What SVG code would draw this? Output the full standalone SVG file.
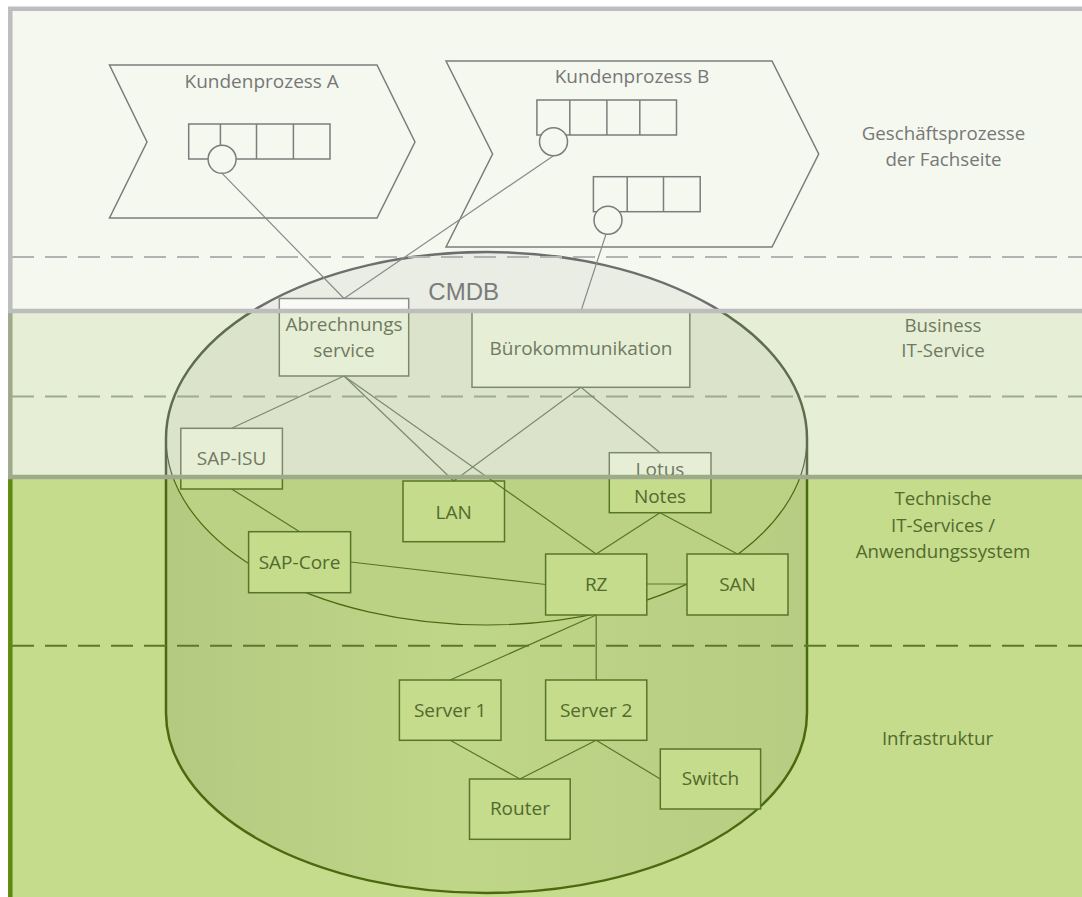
<svg xmlns="http://www.w3.org/2000/svg" width="1082" height="897" viewBox="0 0 1082 897">
<defs>
<linearGradient id="gLine" gradientUnits="userSpaceOnUse" x1="0" y1="0" x2="0" y2="897">
<stop offset="0" stop-color="#8a8a8a"/><stop offset="0.3467" stop-color="#8a8a8a"/>
<stop offset="0.3467" stop-color="#7e896b"/><stop offset="0.5318" stop-color="#7e896b"/>
<stop offset="0.5318" stop-color="#577528"/><stop offset="1" stop-color="#577528"/>
</linearGradient>
<linearGradient id="gCyl" gradientUnits="userSpaceOnUse" x1="0" y1="0" x2="0" y2="897">
<stop offset="0" stop-color="#6e6e6e"/><stop offset="0.3467" stop-color="#6e6e6e"/>
<stop offset="0.3467" stop-color="#5f6d4c"/><stop offset="0.5318" stop-color="#5f6d4c"/>
<stop offset="0.5318" stop-color="#4b6a10"/><stop offset="1" stop-color="#4b6a10"/>
</linearGradient>
<linearGradient id="gFill" gradientUnits="userSpaceOnUse" x1="0" y1="0" x2="0" y2="897">
<stop offset="0" stop-color="#f8faf4"/><stop offset="0.3467" stop-color="#f8faf4"/>
<stop offset="0.3467" stop-color="#e6efd5"/><stop offset="0.5318" stop-color="#e6efd5"/>
<stop offset="0.5318" stop-color="#c4dc8c"/><stop offset="1" stop-color="#c4dc8c"/>
</linearGradient>
<linearGradient id="gBody" x1="0" y1="0" x2="1" y2="0">
<stop offset="0" stop-color="#000" stop-opacity="0.085"/>
<stop offset="0.45" stop-color="#000" stop-opacity="0.025"/>
<stop offset="1" stop-color="#000" stop-opacity="0.07"/>
</linearGradient>
<style>
.box{fill:url(#gFill);stroke:url(#gLine);stroke-width:1.5}
.con{fill:none;stroke:url(#gLine);stroke-width:1.2}
.pr{fill:none;stroke:#7c7c7c;stroke-width:1.5}
.cell{fill:none;stroke:#7c7c7c;stroke-width:1.5}
.circ{fill:#f5f8ef;stroke:#7c7c7c;stroke-width:1.5}
.t{font-family:"Open Sans","Noto Sans",sans-serif;font-size:19px;text-anchor:middle}
.lb{font-size:18.7px}
.t1{fill:#777777}
.t2{fill:#6f7962}
.t3{fill:#526a2c}
.dash{fill:none;stroke-width:2;stroke-dasharray:22 11}
</style>
</defs>

<g id="bands">
<rect x="10" y="8.7" width="1090" height="302.3" fill="#f5f8ef"/>
<rect x="10" y="311" width="1090" height="166" fill="#e6eed5"/>
<rect x="10" y="477" width="1090" height="430" fill="#c4dc8c"/>
</g>

<g id="cmdb-cylinder">
<path d="M166,438.5 A320.5,186.5 0 0 0 807,438.5 L807,713 A320.5,180 0 0 1 166,713 Z" fill="url(#gBody)"/>
<ellipse cx="486.5" cy="438.5" rx="320.5" ry="186.5" fill="#000" fill-opacity="0.045"/>
<path d="M166,438.5 A320.5,186.5 0 0 0 807,438.5" fill="none" stroke="url(#gCyl)" stroke-width="1.2"/>
<path d="M166,438.5 A320.5,186.5 0 0 1 807,438.5 L807,713 A320.5,180 0 0 1 166,713 Z" fill="none" stroke="url(#gCyl)" stroke-width="2.5"/>
<text x="463.7" y="300" font-family="'Liberation Sans',Arial,sans-serif" font-size="24" fill="#7b7b7b" text-anchor="middle">CMDB</text>
</g>

<g id="dashes">
<line x1="12" y1="257" x2="1082" y2="257" stroke="#b3b3b3" class="dash"/>
<line x1="12" y1="396.5" x2="1082" y2="396.5" stroke="#9fab8c" class="dash"/>
<line x1="12" y1="645.7" x2="1082" y2="645.7" stroke="#5b7a2a" class="dash" stroke-width="1.5"/>
</g>

<g id="process-a">
<polygon class="pr" points="109.5,65 377,65 415,142 377,218 109.5,218 147,142"/>
<text class="t t1" x="261.7" y="88.3">Kundenprozess A</text>
<rect class="cell" x="188.7" y="124" width="141.3" height="35"/>
<line class="cell" x1="220.4" y1="124" x2="220.4" y2="159"/>
<line class="cell" x1="256.5" y1="124" x2="256.5" y2="159"/>
<line class="cell" x1="293.4" y1="124" x2="293.4" y2="159"/>
<circle class="circ" cx="222.1" cy="159.3" r="14"/>
</g>

<g id="process-b">
<polygon class="pr" points="446,61 772,61 818.7,154 772,247 446,247 492.6,154"/>
<text class="t t1" x="632" y="83.3">Kundenprozess B</text>
<rect class="cell" x="536.9" y="100" width="139.6" height="35"/>
<line class="cell" x1="569.8" y1="100" x2="569.8" y2="135"/>
<line class="cell" x1="606.9" y1="100" x2="606.9" y2="135"/>
<line class="cell" x1="639.8" y1="100" x2="639.8" y2="135"/>
<circle class="circ" cx="553.5" cy="141.7" r="14"/>
<rect class="cell" x="593.4" y="176.7" width="106.8" height="35"/>
<line class="cell" x1="627.2" y1="176.7" x2="627.2" y2="211.7"/>
<line class="cell" x1="663.5" y1="176.7" x2="663.5" y2="211.7"/>
<circle class="circ" cx="608" cy="220.2" r="14"/>
</g>

<g id="abrechnungsservice">
<rect class="box" x="279.3" y="298.5" width="129.4" height="77.5"/>
<text class="t t2" x="344" y="331">Abrechnungs</text>
<text class="t t2" x="344" y="356.7">service</text>
</g>
<g id="buerokommunikation">
<rect class="box" x="472" y="311" width="217.8" height="76.3"/>
<text class="t t2" x="581" y="354.5">Bürokommunikation</text>
</g>
<g id="sap-isu">
<rect class="box" x="180.8" y="428.3" width="101.6" height="60.7"/>
<text class="t t2" x="231.6" y="464.5">SAP-ISU</text>
</g>
<g id="lotus-notes">
<rect class="box" x="609.3" y="452.7" width="101.7" height="60"/>
<text class="t t2" x="660" y="475.5">Lotus</text>
<text class="t t3" x="660" y="502.7">Notes</text>
</g>
<g id="lan">
<rect class="box" x="403" y="481" width="101.5" height="60.7"/>
<text class="t t3" x="453.7" y="518.5">LAN</text>
</g>
<g id="sap-core">
<rect class="box" x="248.6" y="531.7" width="102" height="61"/>
<text class="t t3" x="299.6" y="569">SAP-Core</text>
</g>
<g id="rz">
<rect class="box" x="545.6" y="554" width="101.2" height="61"/>
<text class="t t3" x="596.2" y="591">RZ</text>
</g>
<g id="san">
<rect class="box" x="687" y="554" width="101" height="61"/>
<text class="t t3" x="737.5" y="591">SAN</text>
</g>
<g id="server-1">
<rect class="box" x="399.4" y="680" width="101.6" height="60.3"/>
<text class="t t3" x="450.2" y="716.7">Server 1</text>
</g>
<g id="server-2">
<rect class="box" x="545.6" y="680" width="101.2" height="60.3"/>
<text class="t t3" x="596.2" y="716.7">Server 2</text>
</g>
<g id="router">
<rect class="box" x="469.5" y="779" width="100.7" height="60.3"/>
<text class="t t3" x="519.9" y="815">Router</text>
</g>
<g id="switch">
<rect class="box" x="660.3" y="749" width="100.3" height="60"/>
<text class="t t3" x="710.5" y="785.3">Switch</text>
</g>

<g id="connectors">
<line class="con" x1="222.1" y1="173.3" x2="344" y2="298.5" stroke-width="1"/>
<line class="con" x1="553.5" y1="155.7" x2="344" y2="298.5" stroke-width="1"/>
<line class="con" x1="606" y1="234.2" x2="581" y2="311" stroke-width="1"/>
<line class="con" x1="344" y1="376" x2="231.6" y2="428.3"/>
<line class="con" x1="344" y1="376" x2="453.7" y2="481"/>
<line class="con" x1="344" y1="376" x2="596.2" y2="554"/>
<line class="con" x1="581" y1="387.3" x2="453.7" y2="481"/>
<line class="con" x1="581" y1="387.3" x2="660" y2="452.7"/>
<line class="con" x1="231.6" y1="489" x2="299.6" y2="531.7"/>
<line class="con" x1="350.6" y1="562" x2="545.6" y2="584.5"/>
<line class="con" x1="660" y1="512.7" x2="596.2" y2="554"/>
<line class="con" x1="660" y1="512.7" x2="737.5" y2="554"/>
<line class="con" x1="646.8" y1="584" x2="687" y2="584"/>
<line class="con" x1="596.2" y1="615" x2="450.2" y2="680"/>
<line class="con" x1="596.2" y1="615" x2="596.2" y2="680"/>
<line class="con" x1="450.2" y1="740.3" x2="519.9" y2="779"/>
<line class="con" x1="596.2" y1="740.3" x2="519.9" y2="779"/>
<line class="con" x1="596.2" y1="740.3" x2="660.3" y2="779"/>
</g>

<g id="layer-labels">
<text class="t lb t1" x="943.5" y="140">Geschäftsprozesse</text>
<text class="t lb t1" x="943.5" y="165.7">der Fachseite</text>
<text class="t lb t2" x="943" y="331.7">Business</text>
<text class="t lb t2" x="943" y="357.3">IT-Service</text>
<text class="t lb t3" x="943" y="505">Technische</text>
<text class="t lb t3" x="943" y="532.3">IT-Services /</text>
<text class="t lb t3" x="943" y="558">Anwendungssystem</text>
<text class="t lb t3" x="937.5" y="745">Infrastruktur</text>
</g>

<g id="band-borders" fill="none" stroke-width="4.5">
<line x1="10.3" y1="477" x2="10.3" y2="897" stroke="#5f8a12"/>
<path d="M10.3,311 V477 H1090" stroke="#9eaa8a"/>
<path d="M1090,8.7 H10.3 V311 H1090" stroke="#bdbdbd"/>
</g>
</svg>
